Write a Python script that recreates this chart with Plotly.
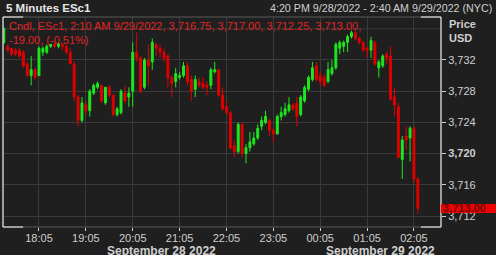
import pandas as pd
import plotly.graph_objects as go

# ---- data (ESc1, 5-minute candles, 16:20 9/28/2022 .. 02:10 9/29/2022) ----
opens = [3734.25, 3733.75, 3733.5, 3733.25, 3733.25, 3733, 3731.5, 3730, 3730.75, 3730,
         3733, 3733, 3733.75, 3734, 3733.75, 3734, 3733.75, 3733, 3731.5, 3727.25,
         3724.25, 3726.25, 3725.5, 3727.75, 3728.5, 3728.75, 3726.5, 3728.5, 3727.5, 3725,
         3725.25, 3727.75, 3727.25, 3728, 3733, 3732.25, 3728.5, 3732, 3731.75, 3734,
         3733.5, 3733, 3732.5, 3729.75, 3729.25, 3729.75, 3730, 3731.25, 3729.5, 3728.25,
         3729.25, 3729, 3728.75, 3728.75, 3730.5, 3730.75, 3727.5, 3726, 3725.25, 3721,
         3720.25, 3723.75, 3720, 3720.75, 3721.25, 3722, 3723.5, 3724, 3724.25, 3723,
         3722.5, 3724.75, 3725, 3725.5, 3726.25, 3726.5, 3725, 3726.75, 3728.25, 3729.5,
         3731.25, 3730, 3729.75, 3729.25, 3730.25, 3731, 3733.5, 3733.75, 3734.25, 3735,
         3735.5, 3734.75, 3734.25, 3733.5, 3733.25, 3734.25, 3731, 3731.25, 3732.75, 3732.5,
         3727.25, 3726, 3719.25, 3722.25, 3722, 3723.25, 3716.75]
closes = [3736, 3733.25, 3732.75, 3732.75, 3732.5, 3731.25, 3730, 3730.75, 3729.75, 3733.5,
          3733.5, 3733.75, 3734, 3733.75, 3734, 3733.75, 3733, 3731.5, 3727.25, 3724.25,
          3726.5, 3725.5, 3728, 3728.75, 3729, 3726.75, 3728.5, 3727.5, 3725, 3725.75,
          3728, 3726.75, 3727.75, 3733, 3732.25, 3728, 3732, 3731.25, 3734.25, 3733.5,
          3733, 3732.25, 3729.75, 3729, 3730.25, 3730, 3731.25, 3729.25, 3728, 3729.5,
          3728.75, 3728.5, 3728.5, 3730.75, 3730.75, 3727.5, 3725.75, 3725.25, 3720.75, 3720.25,
          3723.75, 3720, 3720.75, 3721.5, 3722, 3723.25, 3724.25, 3724.75, 3723, 3722.5,
          3724.75, 3725.25, 3725.75, 3726.25, 3725.75, 3724.75, 3727.25, 3728.5, 3729.75, 3731,
          3729.5, 3729.25, 3728.75, 3730.75, 3731, 3734, 3734.25, 3734.25, 3735, 3735.5,
          3734.75, 3734.25, 3733.25, 3733.25, 3734.5, 3731.5, 3731.75, 3732.5, 3732.25, 3727,
          3726.25, 3719.5, 3721.75, 3721.75, 3723.25, 3716.75, 3713]
highs = [3736.25, 3734, 3733.5, 3733.5, 3733.5, 3733.25, 3731.75, 3732.5, 3731, 3733.75,
         3733.75, 3734, 3734, 3734.25, 3734.25, 3734, 3734, 3733.5, 3731.75, 3727.5,
         3727.25, 3726.75, 3728.25, 3729, 3729.25, 3728.75, 3728.5, 3728.75, 3727.5, 3726,
         3728.25, 3728.75, 3728.5, 3734.25, 3735.5, 3732.5, 3732.25, 3734, 3734.75, 3734.25,
         3734, 3733.5, 3732.75, 3730, 3731, 3730.5, 3731.75, 3731.75, 3730, 3730,
         3729.75, 3729.75, 3729.25, 3731, 3731.75, 3730.75, 3728.5, 3726.75, 3725.5, 3721.75,
         3724, 3724, 3721.25, 3722.75, 3722.75, 3723.75, 3724.75, 3725.5, 3724.5, 3723.25,
         3725, 3726, 3726.5, 3727.25, 3726.5, 3727.25, 3727.5, 3728.75, 3730, 3731.75,
         3731.75, 3730.5, 3730.25, 3731.75, 3732, 3734.25, 3734.5, 3734.5, 3735.25, 3735.75,
         3735.75, 3735, 3734.5, 3733.75, 3735, 3734.5, 3732, 3732.75, 3733, 3733.75,
         3728.5, 3726.5, 3722.25, 3723.5, 3723.5, 3723.5, 3717]
lows = [3734, 3733, 3732.5, 3732.5, 3732.25, 3731, 3729.75, 3728.75, 3729.5, 3730,
        3732.5, 3732.75, 3733.5, 3733.5, 3733.5, 3733.25, 3732.75, 3731.5, 3726.75, 3723.5,
        3724, 3725, 3724.75, 3727.5, 3728.25, 3726.5, 3726.25, 3727.25, 3724.75, 3724.75,
        3725, 3726.5, 3726, 3726, 3731.75, 3727.75, 3728.25, 3728.75, 3730.75, 3732.5,
        3732.25, 3731.75, 3728.5, 3727.25, 3728.5, 3729.5, 3729.75, 3728.75, 3726.75, 3727.25,
        3728.5, 3728.25, 3727.5, 3728.25, 3730.25, 3727.25, 3725.5, 3725, 3720.5, 3719.5,
        3720, 3719.5, 3718.75, 3720.25, 3721, 3721.75, 3723, 3723.75, 3722.25, 3721.5,
        3722.5, 3724.25, 3724.75, 3725.25, 3725.5, 3723.5, 3724.75, 3726.5, 3728, 3729.25,
        3729.25, 3728.75, 3728.5, 3729, 3730, 3730.75, 3732.75, 3733, 3733, 3734.75,
        3734.5, 3734, 3733, 3732.25, 3732.25, 3731.25, 3729.75, 3731, 3731.5, 3726.75,
        3724.75, 3719.5, 3716.75, 3720.5, 3719, 3716.25, 3712.25]

# bar times: session before the daily break, then the overnight session
times = ([t.strftime("%H:%M") for t in pd.date_range("2022-09-28 16:20", "2022-09-28 16:55", freq="5min")] +
         [t.strftime("%H:%M") for t in pd.date_range("2022-09-28 18:00", "2022-09-29 02:10", freq="5min")])

x_tick_vals = ["18:05", "19:05", "20:05", "21:05", "22:05", "23:05", "00:05", "01:05", "02:05"]
y_tick_vals = [3712, 3716, 3720, 3724, 3728, 3732]
y_tick_text = ["3,712", "3,716", "<b>3,720</b>", "3,724", "3,728", "3,732"]
last_price = 3713.00

BG = "#1f1f1f"
GRID = "#3a3a3a"
TXT = "#cfcfcf"
GREEN = "#1ee81e"
RED = "#e00000"
FONT = "Liberation Sans"

fig = go.Figure(go.Candlestick(
    x=times, open=opens, high=highs, low=lows, close=closes,
    increasing=dict(line=dict(color=GREEN, width=1), fillcolor=GREEN),
    decreasing=dict(line=dict(color=RED, width=1), fillcolor=RED),
    whiskerwidth=0, hoverinfo="skip"))

fig.update_layout(
    width=496, height=255,
    margin=dict(l=3, r=55, t=17, b=28),
    paper_bgcolor=BG, plot_bgcolor=BG,
    showlegend=False,
    font=dict(family=FONT, size=11, color=TXT),
    xaxis=dict(type="category", range=[-0.215, 111.92], rangeslider=dict(visible=False),
               tickmode="array", tickvals=x_tick_vals, ticktext=x_tick_vals,
               showgrid=True, gridcolor=GRID, gridwidth=1, zeroline=False, showline=False,
               ticks="outside", ticklen=3, tickcolor=TXT, ticklabelstandoff=-2,
               tickfont=dict(size=11, color=TXT)),
    yaxis=dict(side="right", range=[3710.59, 3737.51], tickmode="array",
               tickvals=y_tick_vals, ticktext=y_tick_text,
               showgrid=True, gridcolor=GRID, gridwidth=1, zeroline=False, showline=False,
               ticks="outside", ticklen=4, tickcolor=TXT, tickfont=dict(size=11, color=TXT)),
)

shapes = [
    dict(type="line", xref="paper", yref="y", x0=0, x1=1, y0=3736, y1=3736,
         line=dict(color=GRID, width=1), layer="below"),
    dict(type="rect", xref="paper", yref="paper", x0=0, x1=1, y0=0, y1=1,
         line=dict(color="#5a5a5a", width=1)),
    dict(type="line", xref="paper", yref="paper", x0=0, x1=0, y0=0, y1=1, line=dict(color="white", width=1)),
    dict(type="line", xref="paper", yref="paper", x0=1, x1=1, y0=0, y1=1, line=dict(color="white", width=1)),
    dict(type="line", xref="paper", yref="paper", x0=0, x1=0.046, y0=0, y1=0, line=dict(color="white", width=1)),
    dict(type="line", xref="paper", yref="paper", x0=0.954, x1=1, y0=0, y1=0, line=dict(color="white", width=1)),
    dict(type="line", xref="paper", yref="paper", x0=0, x1=0.046, y0=1, y1=1, line=dict(color="white", width=1)),
    dict(type="line", xref="paper", yref="paper", x0=0.954, x1=1, y0=1, y1=1, line=dict(color="white", width=1)),
    dict(type="rect", xref="paper", yref="y", x0=1.0, x1=1.13, y0=last_price - 0.62, y1=last_price + 0.55,
         fillcolor="#f00000", line=dict(width=0), layer="above"),
]
fig.update_layout(shapes=shapes)

ann = [
    dict(text="<b>5 Minutes ESc1</b>", xref="paper", yref="paper", x=(4 - 3) / 438, y=(227 - 8) / 210,
         xanchor="left", yanchor="middle", showarrow=False, font=dict(size=11.5, color="#e6e6e6")),
    dict(text="4:20 PM 9/28/2022 - 2:40 AM 9/29/2022 (NYC)", xref="paper", yref="paper",
         x=(494 - 3) / 438, y=(227 - 8) / 210, xanchor="right", yanchor="middle", showarrow=False,
         font=dict(size=10.7, color=TXT)),
    dict(text="<b>Price</b>", xref="paper", yref="paper", x=(447 - 3) / 438, y=(227 - 24) / 210,
         xanchor="left", yanchor="middle", showarrow=False, font=dict(size=11, color=TXT)),
    dict(text="<b>USD</b>", xref="paper", yref="paper", x=(447 - 3) / 438, y=(227 - 38) / 210,
         xanchor="left", yanchor="middle", showarrow=False, font=dict(size=11, color=TXT)),
    dict(text="Cndl, ESc1, 2:10 AM 9/29/2022, 3,716.75, 3,717.00, 3,712.25, 3,713.00,<br>-19.00, (-0.51%)",
         xref="paper", yref="paper", x=(7 - 3) / 438, y=(227 - 18) / 210, xanchor="left", yanchor="top",
         align="left", showarrow=False, font=dict(size=11, color="#e02424")),
    dict(text="<b>September 28 2022</b>", xref="paper", yref="paper", x=(161 - 3) / 438, y=(227 - 251) / 210,
         xanchor="center", yanchor="middle", showarrow=False, font=dict(size=12, color=TXT)),
    dict(text="<b>September 29 2022</b>", xref="paper", yref="paper", x=(380 - 3) / 438, y=(227 - 251) / 210,
         xanchor="center", yanchor="middle", showarrow=False, font=dict(size=12, color=TXT)),
    dict(text="<b>3,713.00</b>", xref="paper", yref="y", x=(441 - 3) / 438, y=last_price,
         xanchor="left", yanchor="middle", showarrow=False, font=dict(size=11, color="#6a0000")),
]
fig.update_layout(annotations=ann)

fig.write_html("out.html")
